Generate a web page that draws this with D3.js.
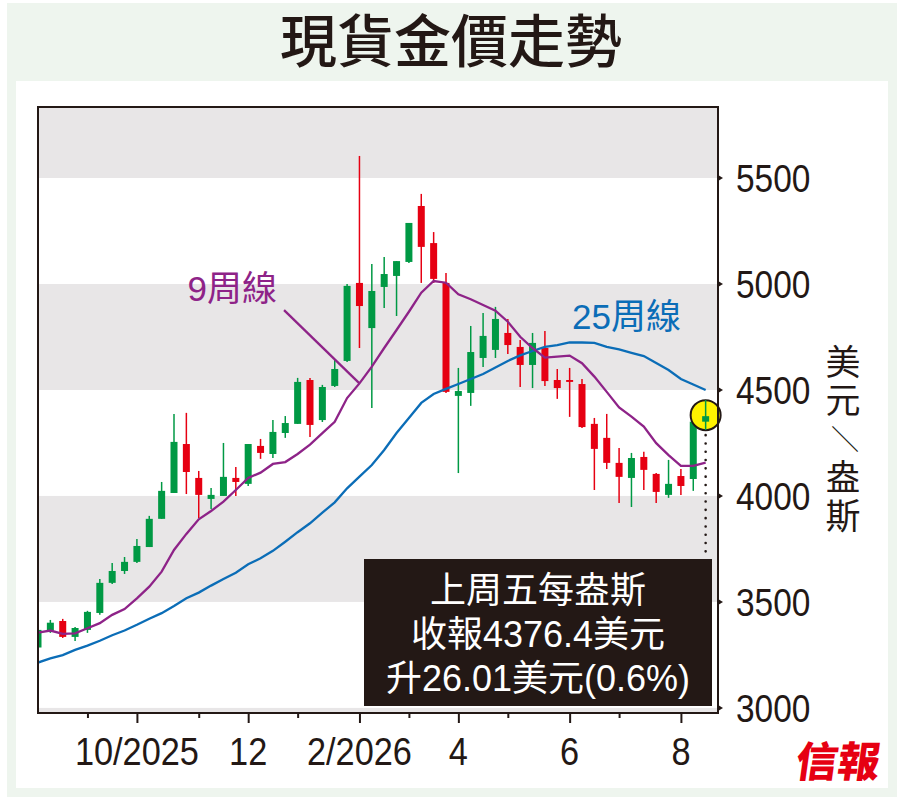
<!DOCTYPE html>
<html>
<head>
<meta charset="utf-8">
<script src="https://cdn.jsdelivr.net/npm/d3@7"></script>
<style>
body { margin: 0; background: #fff; }
text { font-family: "Liberation Sans", "Noto Sans CJK TC", sans-serif; }
</style>
</head>
<body>
<script>
// weekly candles, week ending Friday
const weeks = [
  "2025-08-08","2025-08-15","2025-08-22","2025-08-29","2025-09-05","2025-09-12","2025-09-19","2025-09-26",
  "2025-10-03","2025-10-10","2025-10-17","2025-10-24","2025-10-31","2025-11-07","2025-11-14","2025-11-21",
  "2025-11-28","2025-12-05","2025-12-12","2025-12-19","2025-12-26","2026-01-02","2026-01-09","2026-01-16",
  "2026-01-23","2026-01-30","2026-02-06","2026-02-13","2026-02-20","2026-02-27","2026-03-06","2026-03-13",
  "2026-03-20","2026-03-27","2026-04-03","2026-04-10","2026-04-17","2026-04-24","2026-05-01","2026-05-08",
  "2026-05-15","2026-05-22","2026-05-29","2026-06-05","2026-06-12","2026-06-19","2026-06-26","2026-07-03",
  "2026-07-10","2026-07-17","2026-07-24","2026-07-31","2026-08-07","2026-08-14","2026-08-21"
]
const opens = [
  3285,3365,3410,3335,3368,3448,3590,3646,3689,3759,3892,4014,4245,4085,3986,4000,
  4085,4057,4236,4198,4297,4340,4547,4358,4519,4637,5005,4792,4986,5038,5104,5368,
  5193,5005,4472,4486,4651,4689,4769,4703,4618,4698,4547,4547,4528,4340,4274,4156,
  4085,4184,4104,4005,4094,4080,4350.4
]
const highs = [
  3378,3415,3420,3382,3458,3608,3684,3712,3797,3906,4066,4387,4392,4118,4038,4250,
  4137,4245,4269,4358,4377,4557,4557,4524,4642,5000,5604,5094,5127,5108,5288,5425,
  5245,5052,4604,4802,4863,4892,4835,4736,4769,4778,4599,4604,4552,4368,4387,4226,
  4203,4208,4108,4170,4127,4373,4453
]
const lows = [
  3275,3354,3330,3316,3354,3439,3585,3632,3684,3759,3892,4014,4009,3896,3939,4000,
  4000,4047,4175,4179,4274,4340,4278,4349,4514,4632,4698,4415,4887,4849,5099,5005,
  5005,4486,4108,4425,4608,4651,4670,4514,4509,4519,4458,4373,4321,4028,4127,3967,
  3948,4028,3967,3991,4005,4024,4311
]
const closes = [
  3368,3402,3335,3377,3453,3590,3646,3689,3764,3892,4024,4255,4113,4005,4005,4090,
  4066,4245,4203,4302,4344,4538,4335,4514,4599,4991,4896,4967,5047,5108,5288,5175,
  5024,4491,4495,4679,4755,4835,4712,4618,4722,4542,4509,4538,4325,4222,4156,4090,
  4179,4123,4019,4057,4047,4350.4,4376.4
]
const ma9 = [
  3355,3365,3349,3352,3376,3400,3439,3466,3517,3572,3643,3745,3821,3890,3929,3973,
  4028,4085,4110,4151,4160,4198,4242,4296,4350,4462,4531,4610,4698,4783,4869,4959,
  5014,5006,4951,4928,4901,4874,4822,4751,4698,4653,4657,4662,4626,4563,4491,4418,
  4374,4327,4249,4193,4142,4142,4157
]
const ma25 = [
  3214,3234,3249,3274,3294,3317,3343,3365,3392,3421,3447,3481,3517,3544,3577,3608,
  3638,3678,3706,3741,3784,3829,3871,3921,3970,4036,4091,4146,4217,4297,4368,4439,
  4481,4505,4528,4552,4575,4606,4637,4663,4684,4703,4712,4724,4724,4722,4703,4691,
  4675,4660,4627,4594,4552,4526,4500
]
const yTicks = [3000, 3500, 4000, 4500, 5000, 5500]
const bandRanges = [[5500, 6000], [4500, 5000], [3500, 4000], [2900, 3000]]
const monthTicks = ["2025-09","2025-10","2025-11","2025-12","2026-01","2026-02","2026-03","2026-04","2026-05","2026-06","2026-07","2026-08"]
const monthLabels = ["","10/2025","","12","","2/2026","","4","","6","","8"]
const boxLines = ["上周五每盎斯", "收報4376.4美元", "升26.01美元(0.6%)"]
const unitChars = ["美", "元", "／", "盎", "斯"]

const W = 908, H = 802
const plot = { left: 38, right: 718, top: 107, bottom: 713 }
const dark = "#231815"
const upColor = "#009944", downColor = "#e60012"
const purple = "#8e2388", blue = "#0b6db7"

const svg = d3.select("body").append("svg").attr("width", W).attr("height", H)

// outer frame
svg.append("rect").attr("x", 7).attr("y", 3).attr("width", 890).attr("height", 794).attr("fill", "#eef5ee")
svg.append("rect").attr("x", 16).attr("y", 81).attr("width", 872).attr("height", 707).attr("fill", "#fff")

svg.append("text")
    .attr("x", 451).attr("y", 62)
    .attr("text-anchor", "middle")
    .attr("font-family", "Noto Sans CJK TC")
    .attr("font-weight", 500)
    .attr("font-size", 57)
    .attr("fill", dark)
    .text("現貨金價走勢")

const x = d3.scaleLinear().domain([0, 55]).range([plot.left, plot.right])
const y = d3.scaleLinear().domain([2976, 5835]).range([plot.bottom, plot.top])

svg.append("clipPath").attr("id", "clip")
    .append("rect")
    .attr("x", plot.left).attr("y", plot.top)
    .attr("width", plot.right - plot.left).attr("height", plot.bottom - plot.top)

const g = svg.append("g").attr("clip-path", "url(#clip)")

g.append("rect")
    .attr("x", plot.left).attr("y", plot.top)
    .attr("width", plot.right - plot.left).attr("height", plot.bottom - plot.top)
    .attr("fill", "#fff")

g.selectAll("rect.band")
    .data(bandRanges)
    .enter()
    .append("rect")
    .attr("class", "band")
    .attr("x", plot.left)
    .attr("width", plot.right - plot.left)
    .attr("y", d => y(d[1]))
    .attr("height", d => y(d[0]) - y(d[1]))
    .attr("fill", "#e8e6e7")

// candles
const candles = weeks.map((w, i) => ({ i: i, o: opens[i], h: highs[i], l: lows[i], c: closes[i] }))
const bodyW = 7

const cg = g.selectAll("g.candle")
    .data(candles)
    .enter()
    .append("g")
    .attr("class", "candle")

cg.append("line")
    .attr("x1", d => x(d.i)).attr("x2", d => x(d.i))
    .attr("y1", d => y(d.h)).attr("y2", d => y(d.l))
    .attr("stroke", d => d.c >= d.o ? upColor : downColor)
    .attr("stroke-width", 1.5)

cg.append("rect")
    .attr("x", d => x(d.i) - bodyW / 2)
    .attr("width", bodyW)
    .attr("y", d => y(Math.max(d.o, d.c)))
    .attr("height", d => Math.max(1.5, Math.abs(y(d.o) - y(d.c))))
    .attr("fill", d => d.c >= d.o ? upColor : downColor)

// moving averages
const line = d3.line().x((d, i) => x(i)).y(d => y(d))

g.append("path").datum(ma25)
    .attr("d", line)
    .attr("fill", "none").attr("stroke", blue).attr("stroke-width", 2.3)

g.append("path").datum(ma9)
    .attr("d", line)
    .attr("fill", "none").attr("stroke", purple).attr("stroke-width", 2.3)

// labels of the lines
svg.append("text")
    .attr("x", x(12.1)).attr("y", y(4918))
    .attr("font-size", 35).attr("fill", purple)
    .text("9周線")

svg.append("line")
    .attr("x1", x(19.9)).attr("y1", y(4877))
    .attr("x2", x(26)).attr("y2", y(ma9[26]))
    .attr("stroke", purple).attr("stroke-width", 2.3)

svg.append("text")
    .attr("x", x(43.2)).attr("y", y(4786))
    .attr("font-size", 35).attr("fill", blue)
    .text("25周線")

// last close marker
const last = candles[candles.length - 1]
svg.append("line")
    .attr("x1", x(last.i)).attr("x2", x(last.i))
    .attr("y1", y(last.c) + 19).attr("y2", y(3702))
    .attr("stroke", dark).attr("stroke-width", 2.6)
    .attr("stroke-linecap", "round")
    .attr("stroke-dasharray", "0,8.3")

svg.append("circle")
    .attr("cx", x(last.i)).attr("cy", y(last.c) - 1)
    .attr("r", 15)
    .attr("fill", "#fff100").attr("stroke", dark).attr("stroke-width", 2)

svg.append("line")
    .attr("x1", x(last.i)).attr("x2", x(last.i))
    .attr("y1", y(last.h)).attr("y2", y(last.l))
    .attr("stroke", upColor).attr("stroke-width", 1.5)
svg.append("rect")
    .attr("x", x(last.i) - bodyW / 2).attr("width", bodyW)
    .attr("y", y(last.c)).attr("height", y(last.o) - y(last.c))
    .attr("fill", upColor)

// note box
const boxX0 = 364, boxX1 = 712, boxY0 = 559, boxY1 = 706
svg.append("rect")
    .attr("x", boxX0).attr("y", boxY0)
    .attr("width", boxX1 - boxX0).attr("height", boxY1 - boxY0)
    .attr("fill", dark)

svg.selectAll("text.box")
    .data(boxLines)
    .enter()
    .append("text")
    .attr("class", "box")
    .attr("x", (boxX0 + boxX1) / 2)
    .attr("y", (d, i) => 603 + i * 44)
    .attr("text-anchor", "middle")
    .attr("font-size", 36)
    .attr("fill", "#fff")
    .text(d => d)

// frame
svg.append("rect")
    .attr("x", plot.left).attr("y", plot.top)
    .attr("width", plot.right - plot.left).attr("height", plot.bottom - plot.top)
    .attr("fill", "none").attr("stroke", dark).attr("stroke-width", 2)

// right axis
const yAxis = svg.append("g")
yAxis.selectAll("path.tick")
    .data(yTicks)
    .enter()
    .append("path")
    .attr("d", d => `M${plot.right},${y(d) - 3}L${plot.right + 5},${y(d)}L${plot.right},${y(d) + 3}Z`)
    .attr("fill", dark)

yAxis.selectAll("text")
    .data(yTicks)
    .enter()
    .append("text")
    .attr("transform", d => `translate(736,${y(d) + 14}) scale(0.88,1)`)
    .attr("font-size", 38)
    .attr("fill", dark)
    .text(d => d)

unitChars.forEach((ch, i) => {
    const t = svg.append("text")
        .attr("font-family", "Noto Sans CJK TC")
        .attr("font-size", 35)
        .attr("fill", dark)
        .attr("text-anchor", "middle")
        .attr("dominant-baseline", "central")
        .text(ch)
    const cy = 362 + i * 38.5
    if (ch === "／") {
        t.attr("font-size", 28)
            .attr("transform", `translate(843,${cy}) rotate(90)`)
    } else {
        t.attr("x", 843).attr("y", cy)
    }
})

// bottom axis
const tickIdx = monthTicks.map(m => weeks.findIndex(w => w.startsWith(m)))
const major = tickIdx.filter((d, i) => monthLabels[i] !== "")
const minor = tickIdx.filter((d, i) => monthLabels[i] === "")

const xMajor = d3.axisBottom(x).tickValues(major).tickSize(10).tickFormat("")
const xMinor = d3.axisBottom(x).tickValues(minor).tickSize(5).tickFormat("")

svg.append("g").attr("transform", `translate(0,${plot.bottom})`).call(xMajor)
    .call(a => a.select(".domain").remove())
    .call(a => a.selectAll("line").attr("stroke", dark).attr("stroke-width", 2))
svg.append("g").attr("transform", `translate(0,${plot.bottom})`).call(xMinor)
    .call(a => a.select(".domain").remove())
    .call(a => a.selectAll("line").attr("stroke", dark).attr("stroke-width", 2))

svg.selectAll("text.xlab")
    .data(tickIdx.map((d, i) => ({ i: d, label: monthLabels[i] })).filter(d => d.label !== ""))
    .enter()
    .append("text")
    .attr("class", "xlab")
    .attr("transform", d => `translate(${x(d.i)},765) scale(0.88,1)`)
    .attr("text-anchor", "middle")
    .attr("font-size", 39)
    .attr("fill", dark)
    .text(d => d.label)

// logo
svg.append("text")
    .attr("transform", "translate(836,777) skewX(-8)")
    .attr("text-anchor", "middle")
    .attr("font-family", "Noto Sans CJK TC")
    .attr("font-weight", 900)
    .attr("font-size", 42)
    .attr("fill", "#e60012")
    .text("信報")
</script>
</body>
</html>
